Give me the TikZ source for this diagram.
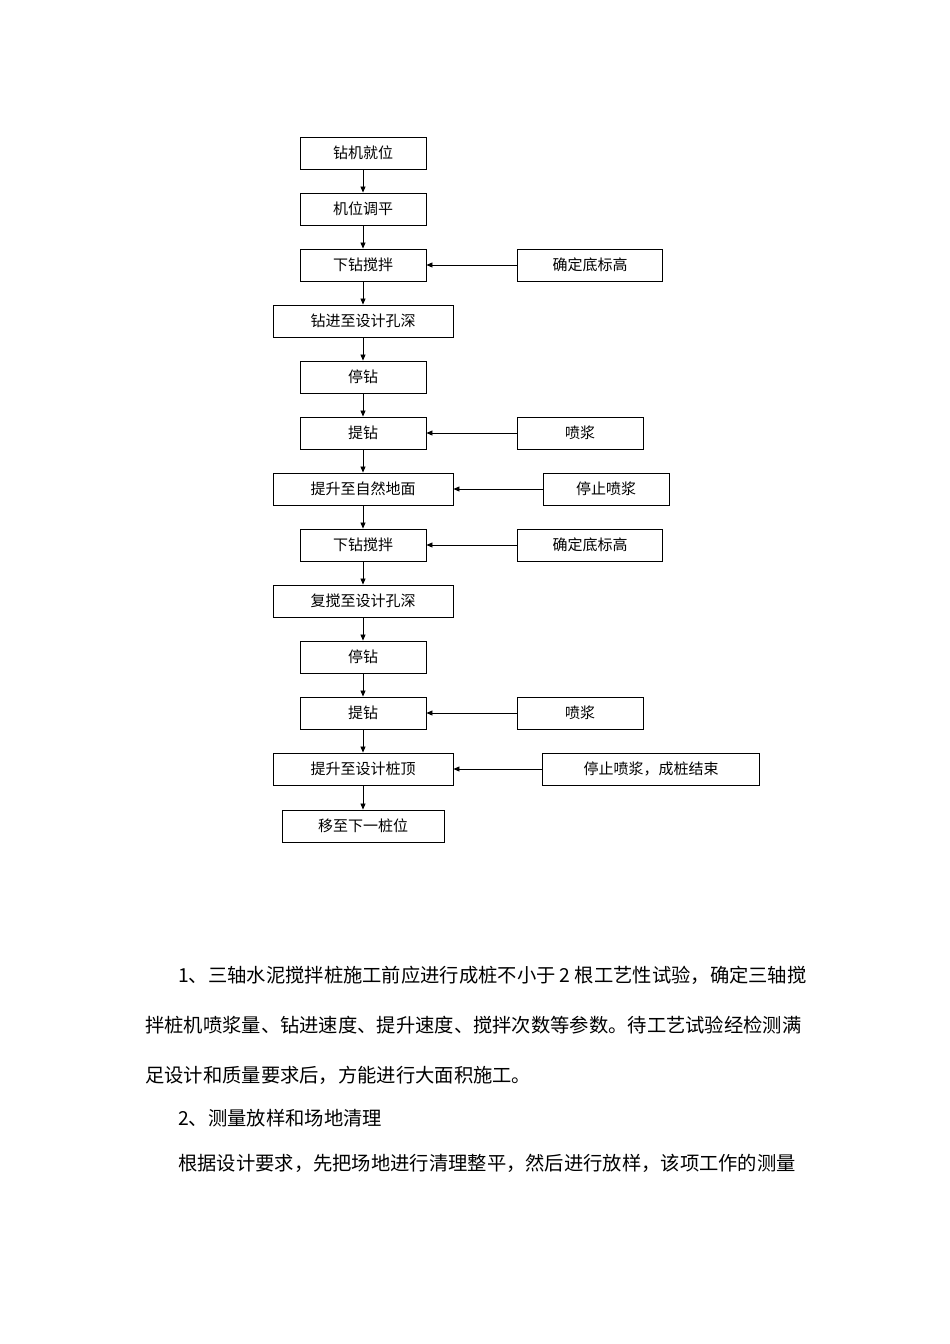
\documentclass[tikz,border=0pt]{standalone}
\usepackage{fontspec}
\setmainfont{Liberation Serif}
\newfontfamily\cjk{Noto Sans CJK SC}
\usetikzlibrary{arrows.meta}
\begin{document}
\begin{tikzpicture}[x=1pt,y=-1pt,
  bx/.style={draw,line width=0.9pt,minimum height=32pt,inner sep=0pt,font=\cjk\fontsize{15}{17}\selectfont},
  w126/.style={minimum width=126pt},
  w180/.style={minimum width=180pt},
  arr/.style={-{Triangle[length=6pt,width=5pt]},line width=0.8pt},
  para/.style={anchor=west,inner sep=0pt,font=\cjk\fontsize{19.3}{22}\selectfont}]
\useasboundingbox (0,0) rectangle (950,1344);
\node[bx,w126] (a1) at (363,153) {钻机就位};
\node[bx,w126] (a2) at (363,209) {机位调平};
\node[bx,w126] (a3) at (363,265) {下钻搅拌};
\node[bx,w180] (a4) at (363,321) {钻进至设计孔深};
\node[bx,w126] (a5) at (363,377) {停钻};
\node[bx,w126] (a6) at (363,433) {提钻};
\node[bx,w180] (a7) at (363,489) {提升至自然地面};
\node[bx,w126] (a8) at (363,545) {下钻搅拌};
\node[bx,w180] (a9) at (363,601) {复搅至设计孔深};
\node[bx,w126] (a10) at (363,657) {停钻};
\node[bx,w126] (a11) at (363,713) {提钻};
\node[bx,w180] (a12) at (363,769) {提升至设计桩顶};
\node[bx,minimum width=162pt] (a13) at (363,826) {移至下一桩位};
\foreach \i [evaluate=\i as \j using int(\i+1)] in {1,...,12} \draw[arr] (a\i) -- (a\j);
\node[bx,minimum width=145pt] (b3) at (590,265) {确定底标高};
\node[bx,w126] (b6) at (580,433) {喷浆};
\node[bx,w126] (b7) at (606,489) {停止喷浆};
\node[bx,minimum width=145pt] (b8) at (590,545) {确定底标高};
\node[bx,w126] (b11) at (580,713) {喷浆};
\node[bx,minimum width=217pt] (b12) at (651,769) {停止喷浆，成桩结束};
\foreach \i in {3,6,7,8,11,12} \draw[arr] (b\i) -- (a\i);
\node[para] (p1) at (178,975) {1、三轴水泥搅拌桩施工前应进行成桩不小于 2 根工艺性试验，确定三轴搅};
\node[para] (p2) at (145,1025) {拌桩机喷浆量、钻进速度、提升速度、搅拌次数等参数。待工艺试验经检测满};
\node[para] (p3) at (145,1075) {足设计和质量要求后，方能进行大面积施工。};
\node[para] (p4) at (178,1118) {2、测量放样和场地清理};
\node[para] (p5) at (178,1163) {根据设计要求，先把场地进行清理整平，然后进行放样，该项工作的测量};
\end{tikzpicture}
\end{document}
